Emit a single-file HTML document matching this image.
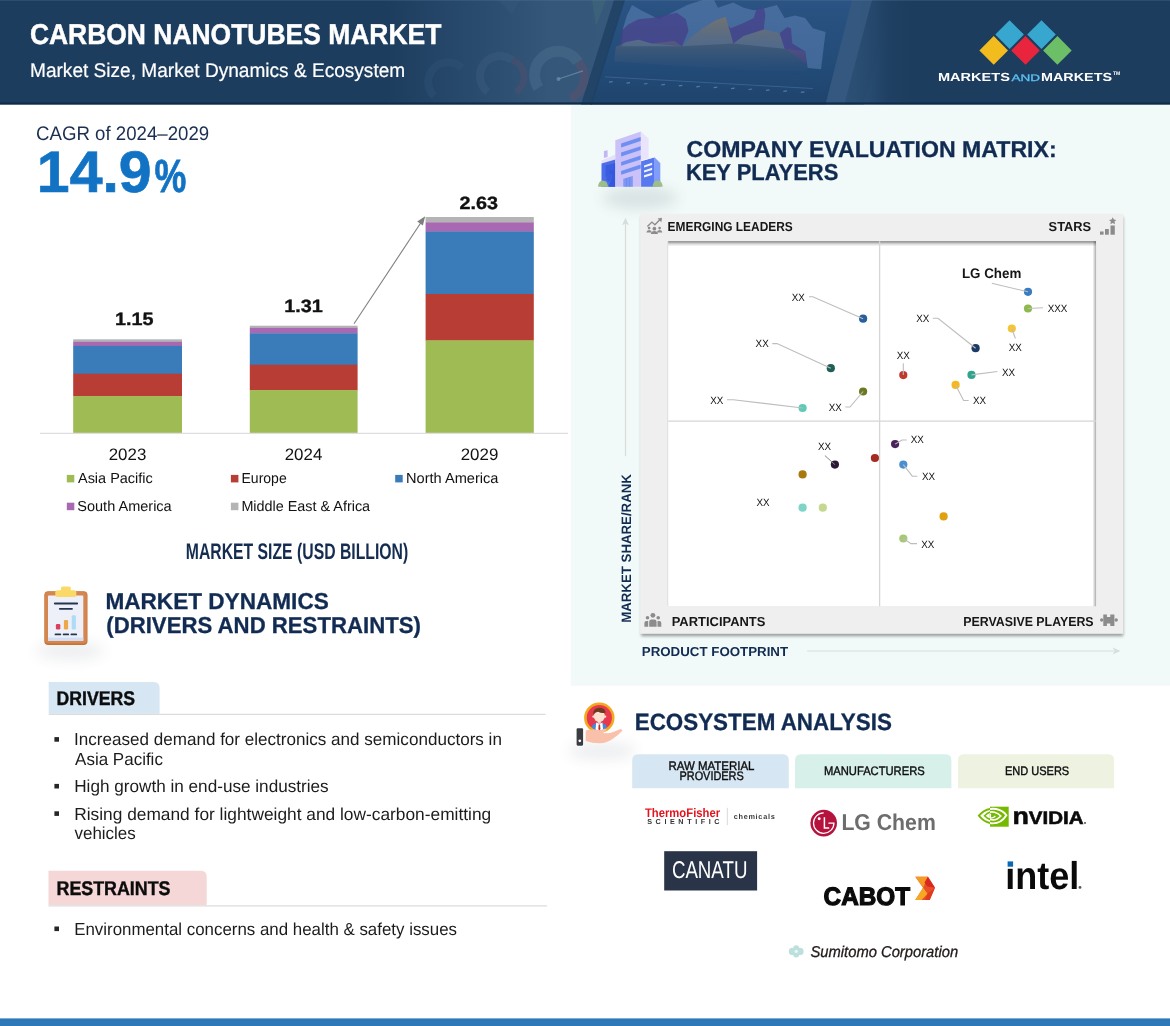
<!DOCTYPE html>
<html lang="en">
<head>
<meta charset="utf-8">
<title>Carbon Nanotubes Market</title>
<style>
html,body{margin:0;padding:0;background:#fff;}
body{width:1170px;height:1026px;overflow:hidden;font-family:"Liberation Sans", sans-serif;}
#infographic{position:relative;width:1170px;height:1026px;overflow:hidden;background:#fff;}
svg{display:block;}
</style>
</head>
<body>
<main id="infographic">
<svg width="1170" height="1026" viewBox="0 0 1170 1026" font-family='"Liberation Sans", sans-serif' text-rendering="geometricPrecision">
<defs>
<filter id="blur1" x="-5%" y="-5%" width="110%" height="110%"><feGaussianBlur stdDeviation="0.7"/></filter>
<filter id="blur15" x="-5%" y="-5%" width="110%" height="110%"><feGaussianBlur stdDeviation="1.5"/></filter>
<filter id="blur2" x="-5%" y="-5%" width="110%" height="110%"><feGaussianBlur stdDeviation="1.2"/></filter>
<filter id="blur3" x="-5%" y="-5%" width="110%" height="110%"><feGaussianBlur stdDeviation="2.2"/></filter>
<filter id="blur6" x="-40%" y="-150%" width="180%" height="400%"><feGaussianBlur stdDeviation="7"/></filter>
<filter id="blur4" x="-30%" y="-100%" width="160%" height="300%"><feGaussianBlur stdDeviation="5"/></filter>
<linearGradient id="ish" x1="0" x2="0" y1="0" y2="1"><stop offset="0" stop-color="#000" stop-opacity="0.5"/><stop offset="0.5" stop-color="#000" stop-opacity="0.16"/><stop offset="1" stop-color="#000" stop-opacity="0"/></linearGradient>
<linearGradient id="ishr" x1="0" x2="1" y1="0" y2="0"><stop offset="0" stop-color="#000" stop-opacity="0"/><stop offset="1" stop-color="#000" stop-opacity="0.32"/></linearGradient>
</defs>
<g id="company-matrix">
<rect x="570.8" y="104.0" width="599.2" height="581.7" fill="#f1faf8"/>
<g id="ico-building">
<ellipse cx="640" cy="198" rx="38" ry="11" fill="#3a4a5a" opacity="0.13" filter="url(#blur6)"/>
<polygon points="603.9,151.1 607.6,150.3 607.6,157 603.9,158" fill="#c3b6f6"/>
<polygon points="601.5,160.4 615.3,154.6 615.3,159.8 601.5,163.7" fill="#e6e0fb"/>
<polygon points="601.5,163.4 615.3,159.5 615.3,186.7 601.5,186.7" fill="#4c6dea"/>
<polygon points="605.6,166.6 613.2,164.2 613.2,169.2 608.8,170.6 608.8,174.4 611.4,173.6 611.4,178.6 608.6,186.7 615.3,186.7 615.3,163 605.6,165.8" fill="#3557dc"/>
<polygon points="605.6,166.6 613.2,164.2 613.2,169.2 608.8,170.6 608.8,174.4 611.4,173.6 611.4,178.6 609,182 606,179 608,176.6 605.6,177.4" fill="#3a5ce0"/>
<polygon points="615.3,140.2 640.9,131.4 640.9,186.7 615.3,186.7" fill="#cbc1f9"/>
<polygon points="640.9,131.4 648.6,138.4 648.6,186.7 640.9,186.7" fill="#e9e3fc"/>
<polygon points="621.1,143.5 640.7,137.1 640.7,141.0 621.1,147.4" fill="#6e8ff1"/>
<polygon points="621.1,152.6 640.7,146.2 640.7,150.1 621.1,156.5" fill="#6e8ff1"/>
<polygon points="621.1,161.9 640.7,155.5 640.7,159.4 621.1,165.8" fill="#6e8ff1"/>
<polygon points="621.1,170.9 640.7,164.5 640.7,168.4 621.1,174.8" fill="#6e8ff1"/>
<polygon points="623.3,178.8 632.8,176.1 632.8,186.7 623.3,186.7" fill="#7d97f3"/>
<line x1="626.6" x2="626.6" y1="178" y2="186.7" stroke="#6a86ee" stroke-width="0.8"/><line x1="629.6" x2="629.6" y1="177.2" y2="186.7" stroke="#6a86ee" stroke-width="0.8"/>
<polygon points="641.1,161.2 654.7,157.3 654.7,186.7 641.1,186.7" fill="#5878ef"/>
<polygon points="654.7,157.3 660.3,163 660.3,186.7 654.7,186.7" fill="#7f9df9"/>
<polyline points="641.1,160.7 654.7,156.8 660.6,162.8" fill="none" stroke="#f4f2ff" stroke-width="1"/>
<polygon points="644,165.4 652.1,162.8 652.1,165.0 644,167.6" fill="#f2f4ff"/>
<polygon points="644,170.4 652.1,167.8 652.1,170.0 644,172.6" fill="#f2f4ff"/>
<polygon points="644,175.3 652.1,172.7 652.1,174.9 644,177.5" fill="#f2f4ff"/>
<path d="M598,186.7 q0.6,-6.2 5,-6.2 q4.4,0 5,6.2z" fill="#9dbe88"/>
<path d="M652.5,186.7 q0.6,-6.2 5,-6.2 q4.6,0 5.2,6.2z" fill="#9dbe88"/>
</g>
<text x="686.5" y="156.9" font-size="23" font-weight="700" fill="#112b52" textLength="370.1" lengthAdjust="spacingAndGlyphs" stroke="#112b52" stroke-width="0.3">COMPANY EVALUATION MATRIX:</text>
<text x="685.9" y="180.0" font-size="23" font-weight="700" fill="#112b52" textLength="152.4" lengthAdjust="spacingAndGlyphs" stroke="#112b52" stroke-width="0.3">KEY PLAYERS</text>
<rect x="641.2" y="217" width="482" height="419.2" fill="#000" opacity="0.36" filter="url(#blur15)"/>
<rect x="640.1" y="213.8" width="483.2" height="420.0" fill="#efefef"/>
<rect x="667.4" y="241.2" width="428.8" height="365.0" fill="#d9d9d9"/>
<rect x="668.2" y="241.2" width="427.8" height="365.0" fill="#fff"/>
<rect x="668.2" y="241.2" width="427.8" height="5.2" fill="url(#ish)"/>
<rect x="1092.6" y="241.2" width="3.4" height="365" fill="url(#ishr)"/>
<line x1="879.6" x2="879.6" y1="241.2" y2="606.2" stroke="#d6d6d6" stroke-width="1.3"/>
<line x1="668.2" x2="1096" y1="421.2" y2="421.2" stroke="#d6d6d6" stroke-width="1.3"/>
<text x="667.6" y="230.7" font-size="13" font-weight="700" fill="#161616" textLength="125.2" lengthAdjust="spacingAndGlyphs">EMERGING LEADERS</text>
<text x="1048.6" y="230.7" font-size="13" font-weight="700" fill="#161616" textLength="42.5" lengthAdjust="spacingAndGlyphs">STARS</text>
<text x="671.7" y="626.3" font-size="13" font-weight="700" fill="#161616" textLength="93.7" lengthAdjust="spacingAndGlyphs">PARTICIPANTS</text>
<text x="963.3" y="626.3" font-size="13" font-weight="700" fill="#161616" textLength="130.3" lengthAdjust="spacingAndGlyphs">PERVASIVE PLAYERS</text>
<text x="641.8" y="655.8" font-size="13" font-weight="700" fill="#112b52" textLength="146.3" lengthAdjust="spacingAndGlyphs">PRODUCT FOOTPRINT</text>
<text transform="translate(631.0,622.8) rotate(-90)" font-size="13.6" font-weight="700" fill="#112b52" textLength="148.7" lengthAdjust="spacingAndGlyphs">MARKET SHARE/RANK</text>
<line x1="625.5" x2="625.5" y1="222" y2="456.2" stroke="#d8dcdb" stroke-width="1.2"/>
<polygon points="625.5,217.8 629,225.2 625.5,223.4 622,225.2" fill="#d8dcdb"/>
<line x1="807.2" x2="1114" y1="651" y2="651" stroke="#d8dcdb" stroke-width="1.2"/>
<polygon points="1120.4,651 1112.6,654.6 1114.6,651 1112.6,647.4" fill="#d8dcdb"/>
<g fill="#8c8c8c" stroke="none">
<path d="M647.4,226.6 L651.9,222.1 L654.9,224.8 L660,219.6" fill="none" stroke="#8c8c8c" stroke-width="1.4"/>
<polygon points="657.6,218.4 662,217.8 661.4,222.2"/>
<circle cx="649.1" cy="228.1" r="1.35"/>
<circle cx="654.4" cy="228.7" r="1.9"/>
<circle cx="659.6" cy="228.1" r="1.35"/>
<path d="M646.3,232.5 q0.3,-2.5 2.8,-2.5 q2.5,0 2.8,2.5z"/><path d="M650.8,234.1 q0.4,-3 3.6,-3 q3.2,0 3.6,3z"/><path d="M656.8,232.5 q0.3,-2.5 2.8,-2.5 q2.5,0 2.8,2.5z"/>
</g>
<g fill="#8c8c8c">
<rect x="1100.0" y="231.5" width="3.6" height="3.2" fill="#8c8c8c"/><rect x="1105.0" y="229.0" width="3.8" height="5.7" fill="#8c8c8c"/><rect x="1110.5" y="225.5" width="4.3" height="9.2" fill="#8c8c8c"/>
<polygon points="1112.7,217.2 1113.8,219.6 1116.4,219.9 1114.5,221.6 1115,224.2 1112.7,222.9 1110.4,224.2 1110.9,221.6 1109,219.9 1111.6,219.6"/>
</g>
<g fill="#8c8c8c">
<circle cx="652.9" cy="615.3" r="2.4"/><circle cx="647.5" cy="617.8" r="1.8"/><circle cx="658.2" cy="617.8" r="1.8"/>
<path d="M649.2,626.8 v-4.9 q0,-2.4 2.4,-2.4 h2.6 q2.4,0 2.4,2.4 v4.9z"/>
<path d="M644.4,626.8 v-3.8 q0,-2 2,-2 h1.8 v5.8z"/><path d="M661.3,626.8 v-3.8 q0,-2 -2,-2 h-1.8 v5.8z"/>
</g>
<g fill="#8c8c8c">
<path d="M1103.3,614.4 H1106.9 V617 H1110.3 V614.4 H1114.4 V625.9 H1110.3 V623.6 H1106.9 V625.9 H1103.3 Z"/>
<circle cx="1101.7" cy="620" r="1.7"/><circle cx="1116.2" cy="620" r="1.7"/>
</g>
<circle cx="863.1" cy="318.7" r="4.1" fill="#2a5f9e"/>
<circle cx="830.8" cy="368.2" r="4.1" fill="#1f5f55"/>
<circle cx="863.1" cy="391.5" r="4.1" fill="#6b7a22"/>
<circle cx="802.6" cy="408" r="4.1" fill="#5fcab5"/>
<circle cx="1028" cy="291.8" r="4.1" fill="#3a7cc0"/>
<circle cx="1028" cy="308.5" r="4.1" fill="#8fb84e"/>
<circle cx="1011.8" cy="328.5" r="4.1" fill="#f5c535"/>
<circle cx="975.6" cy="348.2" r="4.1" fill="#1b3a66"/>
<circle cx="903.3" cy="375.1" r="4.1" fill="#c0392b"/>
<circle cx="971.5" cy="374.9" r="4.1" fill="#2fa58e"/>
<circle cx="955.6" cy="384.9" r="4.1" fill="#f5b820"/>
<circle cx="834.9" cy="464.6" r="4.1" fill="#2a1a35"/>
<circle cx="874.9" cy="458" r="4.1" fill="#a52a22"/>
<circle cx="802.6" cy="474.4" r="4.1" fill="#a8790f"/>
<circle cx="802.6" cy="507.7" r="4.1" fill="#7fd4c8"/>
<circle cx="822.8" cy="507.7" r="4.1" fill="#c5d890"/>
<circle cx="895.1" cy="444.1" r="4.1" fill="#4a235a"/>
<circle cx="903.3" cy="464.6" r="4.1" fill="#4a90d0"/>
<circle cx="943.6" cy="516.4" r="4.1" fill="#e0a010"/>
<circle cx="903.3" cy="538.5" r="4.1" fill="#a8c878"/>
<polyline points="809,296.7 812.8,296.7 863.1,318.7" fill="none" stroke="#bdbdbd" stroke-width="1.1"/>
<polyline points="772.3,343.6 777,343.6 830.8,368.2" fill="none" stroke="#bdbdbd" stroke-width="1.1"/>
<polyline points="727,399.7 733.3,399.7 802.6,408" fill="none" stroke="#bdbdbd" stroke-width="1.1"/>
<polyline points="845.4,407 850,407 863.1,391.5" fill="none" stroke="#bdbdbd" stroke-width="1.1"/>
<polyline points="991.8,283.3 1028,291.8" fill="none" stroke="#bdbdbd" stroke-width="1.1"/>
<polyline points="1028,308.5 1043,307.7" fill="none" stroke="#bdbdbd" stroke-width="1.1"/>
<polyline points="932.8,318.2 938,318.2 975.6,348.2" fill="none" stroke="#bdbdbd" stroke-width="1.1"/>
<polyline points="1011.8,328.5 1015.4,338.5" fill="none" stroke="#bdbdbd" stroke-width="1.1"/>
<polyline points="903.3,363.3 903.3,375.1" fill="none" stroke="#bdbdbd" stroke-width="1.1"/>
<polyline points="971.5,374.9 997.4,371.5" fill="none" stroke="#bdbdbd" stroke-width="1.1"/>
<polyline points="955.6,384.9 963.6,400.5 968.7,400.5" fill="none" stroke="#bdbdbd" stroke-width="1.1"/>
<line x1="824.9" y1="455.6" x2="834.9" y2="464.6" stroke="#888" stroke-width="1"/>
<polyline points="895.1,444.1 902,440 906.7,440" fill="none" stroke="#bdbdbd" stroke-width="1.1"/>
<polyline points="903.3,464.6 912.3,476.2 917.4,476.2" fill="none" stroke="#bdbdbd" stroke-width="1.1"/>
<polyline points="903.3,538.5 911,543.6 917,543.6" fill="none" stroke="#bdbdbd" stroke-width="1.1"/>
<text x="791.8" y="300.5" font-size="10.6" font-weight="400" fill="#111" textLength="13.1" lengthAdjust="spacingAndGlyphs">XX</text>
<text x="755.6" y="347.4" font-size="10.6" font-weight="400" fill="#111" textLength="13.1" lengthAdjust="spacingAndGlyphs">XX</text>
<text x="710.3" y="403.8" font-size="10.6" font-weight="400" fill="#111" textLength="13.1" lengthAdjust="spacingAndGlyphs">XX</text>
<text x="828.7" y="410.8" font-size="10.6" font-weight="400" fill="#111" textLength="13.1" lengthAdjust="spacingAndGlyphs">XX</text>
<text x="916.2" y="322.3" font-size="10.6" font-weight="400" fill="#111" textLength="13.1" lengthAdjust="spacingAndGlyphs">XX</text>
<text x="1008.7" y="350.8" font-size="10.6" font-weight="400" fill="#111" textLength="13.1" lengthAdjust="spacingAndGlyphs">XX</text>
<text x="896.7" y="358.5" font-size="10.6" font-weight="400" fill="#111" textLength="13.1" lengthAdjust="spacingAndGlyphs">XX</text>
<text x="1002.0" y="375.9" font-size="10.6" font-weight="400" fill="#111" textLength="13.1" lengthAdjust="spacingAndGlyphs">XX</text>
<text x="973.0" y="404.4" font-size="10.6" font-weight="400" fill="#111" textLength="13.1" lengthAdjust="spacingAndGlyphs">XX</text>
<text x="818.0" y="450.3" font-size="10.6" font-weight="400" fill="#111" textLength="13.1" lengthAdjust="spacingAndGlyphs">XX</text>
<text x="756.4" y="505.6" font-size="10.6" font-weight="400" fill="#111" textLength="13.1" lengthAdjust="spacingAndGlyphs">XX</text>
<text x="910.8" y="443.1" font-size="10.6" font-weight="400" fill="#111" textLength="13.1" lengthAdjust="spacingAndGlyphs">XX</text>
<text x="922.0" y="479.7" font-size="10.6" font-weight="400" fill="#111" textLength="13.1" lengthAdjust="spacingAndGlyphs">XX</text>
<text x="921.3" y="547.7" font-size="10.6" font-weight="400" fill="#111" textLength="13.1" lengthAdjust="spacingAndGlyphs">XX</text>
<text x="1047.7" y="311.8" font-size="10.6" font-weight="400" fill="#111" textLength="19.7" lengthAdjust="spacingAndGlyphs">XXX</text>
<text x="961.9" y="278.2" font-size="14" font-weight="700" fill="#161616" textLength="59.4" lengthAdjust="spacingAndGlyphs">LG Chem</text>
</g>
<g id="header">
<defs><linearGradient id="hg" x1="0" x2="1" y1="0" y2="0"><stop offset="0" stop-color="#1d3d5e"/><stop offset="0.33" stop-color="#1d3d5e"/><stop offset="0.40" stop-color="#284a6c"/><stop offset="0.47" stop-color="#34577a"/><stop offset="0.52" stop-color="#36587a"/><stop offset="0.73" stop-color="#2d527a"/><stop offset="0.76" stop-color="#1f4062"/><stop offset="0.78" stop-color="#1d3d5e"/><stop offset="1" stop-color="#1d3d5e"/></linearGradient><linearGradient id="scr" x1="0" x2="0" y1="0" y2="1"><stop offset="0" stop-color="#2b5383"/><stop offset="0.6" stop-color="#234c79"/><stop offset="1" stop-color="#1f446c"/></linearGradient><linearGradient id="fadeY" x1="0" x2="0" y1="0" y2="1"><stop offset="0" stop-color="#a3875f" stop-opacity="0.85"/><stop offset="1" stop-color="#6a6a7a" stop-opacity="0"/></linearGradient><linearGradient id="hdark" x1="0" x2="0" y1="0" y2="1"><stop offset="0" stop-color="#5a7a98" stop-opacity="0.45"/><stop offset="0.012" stop-color="#5a7a98" stop-opacity="0"/><stop offset="0.975" stop-color="#0f2a48" stop-opacity="0"/><stop offset="0.985" stop-color="#0f2a48" stop-opacity="1"/><stop offset="1" stop-color="#0f2a48" stop-opacity="0.9"/></linearGradient><linearGradient id="bez" x1="0" x2="1" y1="0" y2="0"><stop offset="0" stop-color="#2d5075" stop-opacity="0.9"/><stop offset="1" stop-color="#1d3d5e" stop-opacity="0"/></linearGradient></defs>
<rect x="0.0" y="0.0" width="1170.0" height="104.5" fill="url(#hg)"/>
<polygon points="623,0 852,0 825.6,104.5 590,104.5" fill="url(#scr)"/>
<polygon points="614,0 625,0 592,104.5 581,104.5" fill="#1f4163" opacity="0.85"/>
<polygon points="852,0 872,0 844.4,104.5 825.6,104.5" fill="#35597f" opacity="0.9"/><polygon points="872,0 892,0 864,104.5 844.4,104.5" fill="url(#bez)"/>
<g opacity="0.66" filter="url(#blur1)">
<polygon points="623.1,28.2 626.9,15.4 632.1,5.1 641.0,10.3 659.0,19.2 674.4,11.5 687.2,5.1 702.6,0.0 714.1,0.0 717.9,7.7 733.3,2.6 743.6,7.7 753.8,10.3 766.7,7.7 776.9,5.1 784.6,17.9 794.9,15.4 805.1,17.9 812.8,28.2 825.6,32.1 821.0,69.2 807.7,67.9 805.1,51.3 784.6,48.7 733.3,43.6 682.1,46.2 621.8,46.2" fill="#6f93c6" opacity="0.62"/>
<polygon points="620.0,46.2 621.8,30.8 628.2,24.4 638.5,19.2 651.3,17.9 664.1,15.4 676.9,12.8 685.9,19.2 688.5,30.8 682.1,46.2 651.3,43.6 638.5,39.7 625.6,42.3" fill="#553a90" opacity="0.8"/>
<polygon points="730.8,28.2 743.6,23.1 753.8,17.9 756.4,9.0 764.1,7.7 765.4,15.4 764.1,25.6 764.1,29.5 743.6,35.9 733.3,43.6 728.2,25.6" fill="#553a90" opacity="0.8"/>
<polygon points="779.5,33.3 787.2,26.9 791.0,28.2 792.3,43.6 805.1,51.3 806.4,64.1 784.6,48.7" fill="#553a90" opacity="0.8"/>
<polygon points="614.1,61.5 615.9,46.7 625.6,42.3 638.5,39.7 651.3,43.6 674.4,41.0 682.1,46.2 689.7,38.5 702.6,28.2 715.4,20.5 725.6,16.7 728.2,25.6 733.3,43.6 743.6,35.9 764.1,29.5 779.5,33.3 784.6,48.7 805.1,51.3 808.2,68.7 806.4,74.4" fill="url(#fadeY)"/>
</g>
<polyline points="605.1,76.9 812.8,88.5" stroke="#4a75a8" stroke-width="0.8" fill="none" opacity="0.7"/>
<rect x="609.0" y="81.5" width="3.6" height="1.2" fill="#7fa3cf" opacity="0.55" transform="rotate(-8 609.0 81.5)"/>
<rect x="626.4" y="82.5" width="3.6" height="1.2" fill="#7fa3cf" opacity="0.55" transform="rotate(-8 626.4 82.5)"/>
<rect x="643.8" y="83.4" width="3.6" height="1.2" fill="#7fa3cf" opacity="0.55" transform="rotate(-8 643.8 83.4)"/>
<rect x="661.3" y="84.3" width="3.6" height="1.2" fill="#7fa3cf" opacity="0.55" transform="rotate(-8 661.3 84.3)"/>
<rect x="678.7" y="85.2" width="3.6" height="1.2" fill="#7fa3cf" opacity="0.55" transform="rotate(-8 678.7 85.2)"/>
<rect x="696.2" y="86.2" width="3.6" height="1.2" fill="#7fa3cf" opacity="0.55" transform="rotate(-8 696.2 86.2)"/>
<rect x="713.6" y="87.1" width="3.6" height="1.2" fill="#7fa3cf" opacity="0.55" transform="rotate(-8 713.6 87.1)"/>
<rect x="731.0" y="88.0" width="3.6" height="1.2" fill="#7fa3cf" opacity="0.55" transform="rotate(-8 731.0 88.0)"/>
<rect x="748.5" y="88.9" width="3.6" height="1.2" fill="#7fa3cf" opacity="0.55" transform="rotate(-8 748.5 88.9)"/>
<rect x="765.9" y="89.8" width="3.6" height="1.2" fill="#7fa3cf" opacity="0.55" transform="rotate(-8 765.9 89.8)"/>
<rect x="783.3" y="90.8" width="3.6" height="1.2" fill="#7fa3cf" opacity="0.55" transform="rotate(-8 783.3 90.8)"/>
<rect x="800.8" y="91.7" width="3.6" height="1.2" fill="#7fa3cf" opacity="0.55" transform="rotate(-8 800.8 91.7)"/>
<g fill="none" opacity="0.6" filter="url(#blur1)">
<path d="M538.5,88 A22,22 0 0 1 578,62" stroke="#4f7191" stroke-width="11" opacity="0.75"/>
<path d="M578,62 A22,22 0 0 1 570,98" stroke="#7a4a62" stroke-width="9" opacity="0.55"/>
<path d="M488,92 A18,18 0 0 1 512,60" stroke="#3f6183" stroke-width="8" opacity="0.6"/>
<path d="M512,60 A18,18 0 0 1 516,92" stroke="#6a4a66" stroke-width="7" opacity="0.5"/>
<path d="M434,96 A17,17 0 0 1 462,68" stroke="#32557a" stroke-width="8" opacity="0.6"/>
<line x1="558.5" y1="79" x2="583" y2="70.8" stroke="#9fb6cc" stroke-width="1.3" opacity="0.7"/>
<circle cx="558.5" cy="79" r="2" fill="#9fb6cc" opacity="0.7"/>
<path d="M592,0 L606,0 L596,26 Z" fill="#4a7a7a" opacity="0.5" stroke="none"/>
<path d="M498,0 L520,0 L512,14 Z" fill="#3f6183" opacity="0.4" stroke="none"/>
</g>
<rect x="0.0" y="0.0" width="1170.0" height="104.5" fill="url(#hdark)"/>
<text x="29.9" y="44.4" font-size="28.7" font-weight="700" fill="#fff" textLength="411.4" lengthAdjust="spacingAndGlyphs" stroke="#fff" stroke-width="0.45">CARBON NANOTUBES MARKET</text>
<text x="30.0" y="76.9" font-size="19.8" font-weight="400" fill="#fff" textLength="375.2" lengthAdjust="spacingAndGlyphs" stroke="#fff" stroke-width="0.2">Market Size, Market Dynamics &amp; Ecosystem</text>
<polygon points="1009.6,20.3 1023.9,34.6 1009.6,48.900000000000006 995.3000000000001,34.6" fill="#38a7cf"/>
<polygon points="1041.5,20.3 1055.8,34.6 1041.5,48.900000000000006 1027.2,34.6" fill="#38a7cf"/>
<polygon points="993.7,36.099999999999994 1008.0,50.4 993.7,64.7 979.4000000000001,50.4" fill="#f2bc1f"/>
<polygon points="1025.5,36.099999999999994 1039.8,50.4 1025.5,64.7 1011.2,50.4" fill="#e8253c"/>
<polygon points="1057.4,36.099999999999994 1071.7,50.4 1057.4,64.7 1043.1000000000001,50.4" fill="#6dbf67"/>
<text x="937.9" y="80.9" font-size="11.7" font-weight="700" fill="#fff" textLength="72.1" lengthAdjust="spacingAndGlyphs">MARKETS</text>
<text x="1011.4" y="80.9" font-size="9.5" font-weight="400" fill="#5bc0f0" textLength="28.5" lengthAdjust="spacingAndGlyphs" stroke="#5bc0f0" stroke-width="0.3">AND</text>
<text x="1041.0" y="80.9" font-size="11.7" font-weight="700" fill="#fff" textLength="71.0" lengthAdjust="spacingAndGlyphs">MARKETS</text>
<text x="1112.9" y="75.4" font-size="5.2" font-weight="700" fill="#fff" textLength="7.4" lengthAdjust="spacingAndGlyphs">TM</text>
</g>
<g id="market-size">
<text x="36.0" y="140.3" font-size="19.6" font-weight="400" fill="#1b2f52" textLength="173.2" lengthAdjust="spacingAndGlyphs">CAGR of 2024–2029</text>
<text x="36.8" y="192.0" font-size="58.5" font-weight="700" fill="#1273c4" textLength="114.9" lengthAdjust="spacingAndGlyphs" stroke="#1273c4" stroke-width="0.7">14.9</text>
<text x="154.5" y="192.0" font-size="46.5" font-weight="700" fill="#1273c4" textLength="31.8" lengthAdjust="spacingAndGlyphs" stroke="#1273c4" stroke-width="0.8">%</text>
<rect x="73.2" y="339.3" width="108.8" height="2.8" fill="#b4b4b4"/>
<rect x="73.2" y="341.8" width="108.8" height="4.4" fill="#a968b2"/>
<rect x="73.2" y="345.9" width="108.8" height="28.1" fill="#3a7bb9"/>
<rect x="73.2" y="373.7" width="108.8" height="22.7" fill="#b83d34"/>
<rect x="73.2" y="396.1" width="108.8" height="37.2" fill="#9fbb54"/>
<rect x="249.8" y="325.7" width="107.8" height="2.5" fill="#b4b4b4"/>
<rect x="249.8" y="327.9" width="107.8" height="5.7" fill="#a968b2"/>
<rect x="249.8" y="333.3" width="107.8" height="31.7" fill="#3a7bb9"/>
<rect x="249.8" y="364.7" width="107.8" height="25.7" fill="#b83d34"/>
<rect x="249.8" y="390.1" width="107.8" height="43.2" fill="#9fbb54"/>
<rect x="425.6" y="217.0" width="108.2" height="5.7" fill="#b4b4b4"/>
<rect x="425.6" y="222.4" width="108.2" height="9.4" fill="#a968b2"/>
<rect x="425.6" y="231.5" width="108.2" height="62.8" fill="#3a7bb9"/>
<rect x="425.6" y="294.0" width="108.2" height="46.7" fill="#b83d34"/>
<rect x="425.6" y="340.4" width="108.2" height="92.9" fill="#9fbb54"/>
<line x1="40" x2="568" y1="433.4" y2="433.4" stroke="#dedede" stroke-width="1.2"/>
<line x1="354" y1="323.7" x2="421" y2="222.5" stroke="#7f7f7f" stroke-width="1.1"/>
<polygon points="425.2,216.2 422.9,225.5 417.2,221.6" fill="#7f7f7f"/>
<text x="134.3" y="325.1" font-size="17.8" font-weight="700" fill="#111" textLength="38.5" lengthAdjust="spacingAndGlyphs" text-anchor="middle" stroke="#111" stroke-width="0.35">1.15</text>
<text x="303.5" y="311.8" font-size="17.8" font-weight="700" fill="#111" textLength="38.5" lengthAdjust="spacingAndGlyphs" text-anchor="middle" stroke="#111" stroke-width="0.35">1.31</text>
<text x="478.8" y="209.2" font-size="17.8" font-weight="700" fill="#111" textLength="38.5" lengthAdjust="spacingAndGlyphs" text-anchor="middle" stroke="#111" stroke-width="0.35">2.63</text>
<text x="127.5" y="460.3" font-size="16.6" font-weight="400" fill="#111" textLength="37.6" lengthAdjust="spacingAndGlyphs" text-anchor="middle">2023</text>
<text x="303.5" y="460.3" font-size="16.6" font-weight="400" fill="#111" textLength="37.6" lengthAdjust="spacingAndGlyphs" text-anchor="middle">2024</text>
<text x="479.5" y="460.3" font-size="16.6" font-weight="400" fill="#111" textLength="37.6" lengthAdjust="spacingAndGlyphs" text-anchor="middle">2029</text>
<rect x="66.8" y="474.9" width="7.5" height="7.5" fill="#9fbb54"/>
<text x="78.0" y="483.0" font-size="14.5" font-weight="400" fill="#111" textLength="74.7" lengthAdjust="spacingAndGlyphs">Asia Pacific</text>
<rect x="230.9" y="474.9" width="7.5" height="7.5" fill="#b83d34"/>
<text x="241.5" y="483.0" font-size="14.5" font-weight="400" fill="#111" textLength="45.2" lengthAdjust="spacingAndGlyphs">Europe</text>
<rect x="395.2" y="474.9" width="7.5" height="7.5" fill="#3a7bb9"/>
<text x="406.0" y="483.0" font-size="14.5" font-weight="400" fill="#111" textLength="92.4" lengthAdjust="spacingAndGlyphs">North America</text>
<rect x="66.8" y="502.7" width="7.5" height="7.5" fill="#a968b2"/>
<text x="77.3" y="511.3" font-size="14.5" font-weight="400" fill="#111" textLength="94.4" lengthAdjust="spacingAndGlyphs">South America</text>
<rect x="230.9" y="502.7" width="7.5" height="7.5" fill="#b4b4b4"/>
<text x="241.4" y="511.3" font-size="14.5" font-weight="400" fill="#111" textLength="128.7" lengthAdjust="spacingAndGlyphs">Middle East &amp; Africa</text>
<text x="185.8" y="559.2" font-size="22.6" font-weight="700" fill="#142c50" textLength="222.4" lengthAdjust="spacingAndGlyphs">MARKET SIZE (USD BILLION)</text>
</g>
<g id="market-dynamics">
<g id="ico-clip">
<ellipse cx="70" cy="651" rx="34" ry="9" fill="#3a4a5a" opacity="0.09" filter="url(#blur6)"/>
<rect x="44.3" y="591.2" width="43.2" height="53.7" rx="4" fill="#c47238"/>
<rect x="45" y="591.8" width="41.8" height="51.8" rx="3.6" fill="#d5864e"/>
<rect x="48" y="595.6" width="35.3" height="45.2" rx="0.8" fill="#edf0f9"/>
<rect x="48" y="637.6" width="35.3" height="3.2" fill="#d2dff6"/>
<rect x="61" y="586.4" width="9.8" height="7" rx="1.6" fill="#fbd968"/>
<rect x="55.3" y="590.3" width="21" height="6.8" rx="2" fill="#fbd968"/>
<line x1="54.8" x2="77.2" y1="603.5" y2="603.5" stroke="#27364f" stroke-width="1.8" stroke-linecap="round"/>
<line x1="59.8" x2="72" y1="608.8" y2="608.8" stroke="#27364f" stroke-width="1.8" stroke-linecap="round"/>
<rect x="55.9" y="624" width="4.4" height="5.4" rx="1.2" fill="#d9405e"/>
<rect x="63.9" y="619.9" width="4.2" height="9.5" rx="1.2" fill="#eca84a"/>
<rect x="71.7" y="615.2" width="4.2" height="14.2" rx="1.2" fill="#aedcf5"/>
<line x1="55.5" x2="60.3" y1="634.4" y2="634.4" stroke="#27364f" stroke-width="1.8" stroke-linecap="round"/>
<line x1="63.6" x2="68.2" y1="634.4" y2="634.4" stroke="#27364f" stroke-width="1.8" stroke-linecap="round"/>
<line x1="71.4" x2="76.2" y1="634.4" y2="634.4" stroke="#27364f" stroke-width="1.8" stroke-linecap="round"/>
</g>
<text x="105.4" y="609.3" font-size="23" font-weight="700" fill="#112b52" textLength="223.4" lengthAdjust="spacingAndGlyphs" stroke="#112b52" stroke-width="0.3">MARKET DYNAMICS</text>
<text x="106.3" y="633.2" font-size="23" font-weight="700" fill="#112b52" textLength="314.6" lengthAdjust="spacingAndGlyphs" stroke="#112b52" stroke-width="0.3">(DRIVERS AND RESTRAINTS)</text>
<path d="M48.7,682 H153.6 Q159.6,682 159.6,688 V713.8 H48.7 Z" fill="#d6e6f3"/>
<line x1="48.7" x2="545.5" y1="714.3" y2="714.3" stroke="#dcdcdc" stroke-width="1.3"/>
<text x="56.5" y="705.3" font-size="19.8" font-weight="700" fill="#0c0c0c" textLength="78.5" lengthAdjust="spacingAndGlyphs" stroke="#0c0c0c" stroke-width="0.4">DRIVERS</text>
<text x="74.0" y="745.4" font-size="17.4" font-weight="400" fill="#1c1c1c" textLength="427.9" lengthAdjust="spacingAndGlyphs">Increased demand for electronics and semiconductors in</text>
<rect x="54.4" y="737.1" width="4.6" height="4.6" fill="#262626"/>
<text x="75.1" y="765.0" font-size="17.4" font-weight="400" fill="#1c1c1c" textLength="87.8" lengthAdjust="spacingAndGlyphs">Asia Pacific</text>
<text x="74.2" y="792.2" font-size="17.4" font-weight="400" fill="#1c1c1c" textLength="254.5" lengthAdjust="spacingAndGlyphs">High growth in end-use industries</text>
<rect x="54.4" y="783.9" width="4.6" height="4.6" fill="#262626"/>
<text x="74.2" y="819.6" font-size="17.4" font-weight="400" fill="#1c1c1c" textLength="417.0" lengthAdjust="spacingAndGlyphs">Rising demand for lightweight and low-carbon-emitting</text>
<rect x="54.4" y="811.3" width="4.6" height="4.6" fill="#262626"/>
<text x="74.5" y="838.8" font-size="17.4" font-weight="400" fill="#1c1c1c" textLength="61.3" lengthAdjust="spacingAndGlyphs">vehicles</text>
<path d="M48.5,870.8 H200.7 Q206.7,870.8 206.7,876.8 V905.2 H48.5 Z" fill="#f4d7d6"/>
<line x1="48.5" x2="547" y1="905.8" y2="905.8" stroke="#dcdcdc" stroke-width="1.3"/>
<text x="56.5" y="895.2" font-size="19.8" font-weight="700" fill="#0c0c0c" textLength="114.0" lengthAdjust="spacingAndGlyphs" stroke="#0c0c0c" stroke-width="0.4">RESTRAINTS</text>
<text x="74.2" y="934.8" font-size="17.4" font-weight="400" fill="#1c1c1c" textLength="382.8" lengthAdjust="spacingAndGlyphs">Environmental concerns and health &amp; safety issues</text>
<rect x="54.4" y="926.5" width="4.6" height="4.6" fill="#262626"/>
</g>
<g id="ecosystem">
<g id="ico-eco">
<ellipse cx="602" cy="751" rx="34" ry="9" fill="#3a4a5a" opacity="0.09" filter="url(#blur6)"/>
<circle cx="599.3" cy="717.7" r="15.2" fill="#f5a81e"/>
<circle cx="599.3" cy="717.7" r="12.6" fill="#e63950"/>
<clipPath id="cpe"><circle cx="599.3" cy="717.7" r="12.6"/></clipPath>
<g clip-path="url(#cpe)"><path d="M590.6,731 q0.4,-8 8.7,-8.4 q8.3,0.4 8.7,8.4z" fill="#3f8be0"/><path d="M596.2,722.4 l3.1,1.6 l3.1,-1.6 l0.8,8.6 h-7.8z" fill="#fff"/><path d="M598.7,724.6 h1.3 l0.5,4.4 l-1.1,1.4 l-1.1,-1.4z" fill="#c62828"/><rect x="597.7" y="719.5" width="3.2" height="4.2" fill="#f8c9b4"/><ellipse cx="599.3" cy="716.1" rx="5.6" ry="5.9" fill="#fde0d0"/><circle cx="593.5" cy="716.6" r="1.2" fill="#fde0d0"/><circle cx="605.1" cy="716.6" r="1.2" fill="#fde0d0"/><path d="M593.4,714.6 q-0.6,-6.6 6,-6.8 q5.8,0.2 6.2,4.6 q-3.2,1.6 -7.6,-0.6 q-2.2,0.2 -4.6,2.8z" fill="#6e3a1e"/></g>
<path d="M585.7,730.6 q5,-1.6 10.4,-0.8 l4.2,0.5 q1.8,-1.6 4.6,-1.6 q2.4,0.4 1.4,1.8 l-4.4,2.6 l5.8,0.2 q3.2,-0.2 6.2,-1.6 l6,-2.4 q2.6,-0.4 2.4,1.4 q-4,4.6 -9.8,8.2 q-5.6,3.8 -12.6,4.4 q-8,0 -14.2,-2.2z" fill="#f9c0aa"/>
<rect x="575.9" y="727.6" width="8" height="18.8" rx="1.6" fill="#fff"/>
<rect x="576.6" y="728.3" width="6.5" height="17.4" rx="1.1" fill="#3b3b42"/>
<circle cx="579.8" cy="740.8" r="1.35" fill="#fff"/>
</g>
<text x="634.7" y="730.1" font-size="23.6" font-weight="700" fill="#112b52" textLength="257.2" lengthAdjust="spacingAndGlyphs" stroke="#112b52" stroke-width="0.3">ECOSYSTEM ANALYSIS</text>
<path d="M632.2,788.2 V760.2 Q632.2,754.2 638.2,754.2 H782.8 Q788.8,754.2 788.8,760.2 V788.2Z" fill="#d6e6f3"/>
<path d="M795,788.2 V760.2 Q795,754.2 801,754.2 H945.4 Q951.4,754.2 951.4,760.2 V788.2Z" fill="#d7f0ea"/>
<path d="M958,788.2 V760.2 Q958,754.2 964,754.2 H1108.1 Q1114.1,754.2 1114.1,760.2 V788.2Z" fill="#edf2e1"/>
<text x="668.5" y="769.6" font-size="12.3" font-weight="400" fill="#0c0c0c" textLength="85.9" lengthAdjust="spacingAndGlyphs" stroke="#0c0c0c" stroke-width="0.38">RAW MATERIAL</text>
<text x="679.5" y="779.9" font-size="12.3" font-weight="400" fill="#0c0c0c" textLength="64.2" lengthAdjust="spacingAndGlyphs" stroke="#0c0c0c" stroke-width="0.38">PROVIDERS</text>
<text x="824.0" y="774.5" font-size="12.3" font-weight="400" fill="#0c0c0c" textLength="100.7" lengthAdjust="spacingAndGlyphs" stroke="#0c0c0c" stroke-width="0.38">MANUFACTURERS</text>
<text x="1004.9" y="774.5" font-size="12.3" font-weight="400" fill="#0c0c0c" textLength="64.3" lengthAdjust="spacingAndGlyphs" stroke="#0c0c0c" stroke-width="0.38">END USERS</text>
<text x="644.9" y="816.8" font-size="12.4" font-weight="700" fill="#e1141e" textLength="75.2" lengthAdjust="spacingAndGlyphs">ThermoFisher</text>
<text x="647.2" y="823.8" font-size="7.2" font-weight="700" fill="#333" textLength="72.3" lengthAdjust="spacing">SCIENTIFIC</text>
<line x1="727.3" x2="727.3" y1="807.8" y2="825.1" stroke="#d4d4d4" stroke-width="0.9"/>
<text x="733.7" y="819.4" font-size="7.3" font-weight="700" fill="#3a3a3a" textLength="41.0" lengthAdjust="spacing">chemicals</text>
<rect x="664.2" y="851.2" width="92.9" height="39.3" fill="#2a3448"/>
<text x="671.9" y="878.1" font-size="24.2" font-weight="400" fill="#fff" textLength="75.5" lengthAdjust="spacingAndGlyphs">CANATU</text>
<circle cx="823.7" cy="823.1" r="13.3" fill="#b5123e"/>
<path d="M823.7,812.9 A10.2,10.2 0 1 0 833.9,823.2 H828.4" fill="none" stroke="#fff" stroke-width="1.25"/>
<path d="M824.4,817.2 V828 H829.2" fill="none" stroke="#fff" stroke-width="1.5"/>
<circle cx="819.2" cy="818.8" r="1.45" fill="#fff"/>
<text x="841.4" y="830.4" font-size="22.9" font-weight="700" fill="#6d6d6d" textLength="94.4" lengthAdjust="spacingAndGlyphs">LG Chem</text>
<text x="823.6" y="905.1" font-size="25.2" font-weight="700" fill="#0b0b0b" stroke="#0b0b0b" stroke-width="1.2" textLength="86.4" lengthAdjust="spacingAndGlyphs">CABOT</text>
<polygon points="915.3,876.7 927.9,876.7 935,887.7 929.7,900 915.3,900 923.1,887.7" fill="#e8502a"/>
<polygon points="915.3,876.7 927.9,876.7 923.1,887.7" fill="#f59a23"/>
<polygon points="927.9,876.7 935,887.7 927.5,886.5 924.6,882.5" fill="#d9281e"/>
<polygon points="923.1,887.7 927.5,893.8 921.5,900 915.3,900" fill="#f7a823"/>
<polygon points="935,887.7 929.7,900 925,900 927.5,893.8" fill="#e03a1e"/>
<rect x="990.0" y="806.7" width="18.7" height="20.0" fill="#76b900"/>
<clipPath id="nvl"><rect x="975" y="800" width="15" height="32"/></clipPath><clipPath id="nvr"><rect x="990" y="806.7" width="18.7" height="20"/></clipPath>
<g clip-path="url(#nvl)"><path d="M978.9,815.6 Q986,807.6 996,809 Q1003,810.4 1006.4,815.2 Q1001,823.8 992,823.4 Q984.4,822.6 978.9,815.6Z" fill="none" stroke="#76b900" stroke-width="1.9"/><path d="M984.6,815.8 Q989,810.6 994.6,812.2 Q998.6,813.4 1000.8,816 Q996.6,820.6 991.6,819.8 Q987.4,819 984.6,815.8Z" fill="none" stroke="#76b900" stroke-width="1.6"/><path d="M990.4,813.8 V818.2 Q993.6,818.4 995.4,815.8" fill="none" stroke="#76b900" stroke-width="1.3"/></g>
<g clip-path="url(#nvr)"><path d="M978.9,815.6 Q986,807.6 996,809 Q1003,810.4 1006.4,815.2 Q1001,823.8 992,823.4 Q984.4,822.6 978.9,815.6Z" fill="none" stroke="#fff" stroke-width="1.9"/><path d="M984.6,815.8 Q989,810.6 994.6,812.2 Q998.6,813.4 1000.8,816 Q996.6,820.6 991.6,819.8 Q987.4,819 984.6,815.8Z" fill="none" stroke="#fff" stroke-width="1.6"/><path d="M990.4,813.8 V818.2 Q993.6,818.4 995.4,815.8" fill="none" stroke="#fff" stroke-width="1.3"/></g>
<text x="1012.4" y="823.7" font-weight="700" fill="#0a0a0a" stroke="#0a0a0a" stroke-width="0.55" textLength="71.2" lengthAdjust="spacingAndGlyphs"><tspan font-size="23.8">n</tspan><tspan font-size="18.2">VIDIA</tspan></text>
<rect x="1084.3" y="822.2" width="1.4" height="1.5" fill="#0a0a0a"/>
<text x="1005.3" y="889.4" font-size="38.8" font-weight="700" fill="#0a0a0a" textLength="74.0" lengthAdjust="spacingAndGlyphs">intel</text>
<rect x="1006.8" y="860.4" width="7.2" height="8.2" fill="#fff"/>
<rect x="1007.6" y="861.4" width="5.5" height="5.3" fill="#0a68b5"/>
<circle cx="1080" cy="887.4" r="1.4" fill="#555"/>
<g fill="#bde0dc"><circle cx="792.4" cy="951.4" r="3.6"/><circle cx="800" cy="951.4" r="3.6"/><circle cx="796.2" cy="948.3" r="3"/><circle cx="796.2" cy="954.5" r="3"/></g>
<circle cx="796.2" cy="951.4" r="1.7" fill="#e9f6f4"/>
<text x="810.5" y="956.8" font-size="15.6" font-weight="400" fill="#231a1a" textLength="147.6" lengthAdjust="spacingAndGlyphs" font-style="italic" stroke="#231a1a" stroke-width="0.3">Sumitomo Corporation</text>
</g>
<rect x="0" y="1018.4" width="1170" height="7.6" fill="#2e78b7"/>
</svg>
</main>
</body>
</html>
